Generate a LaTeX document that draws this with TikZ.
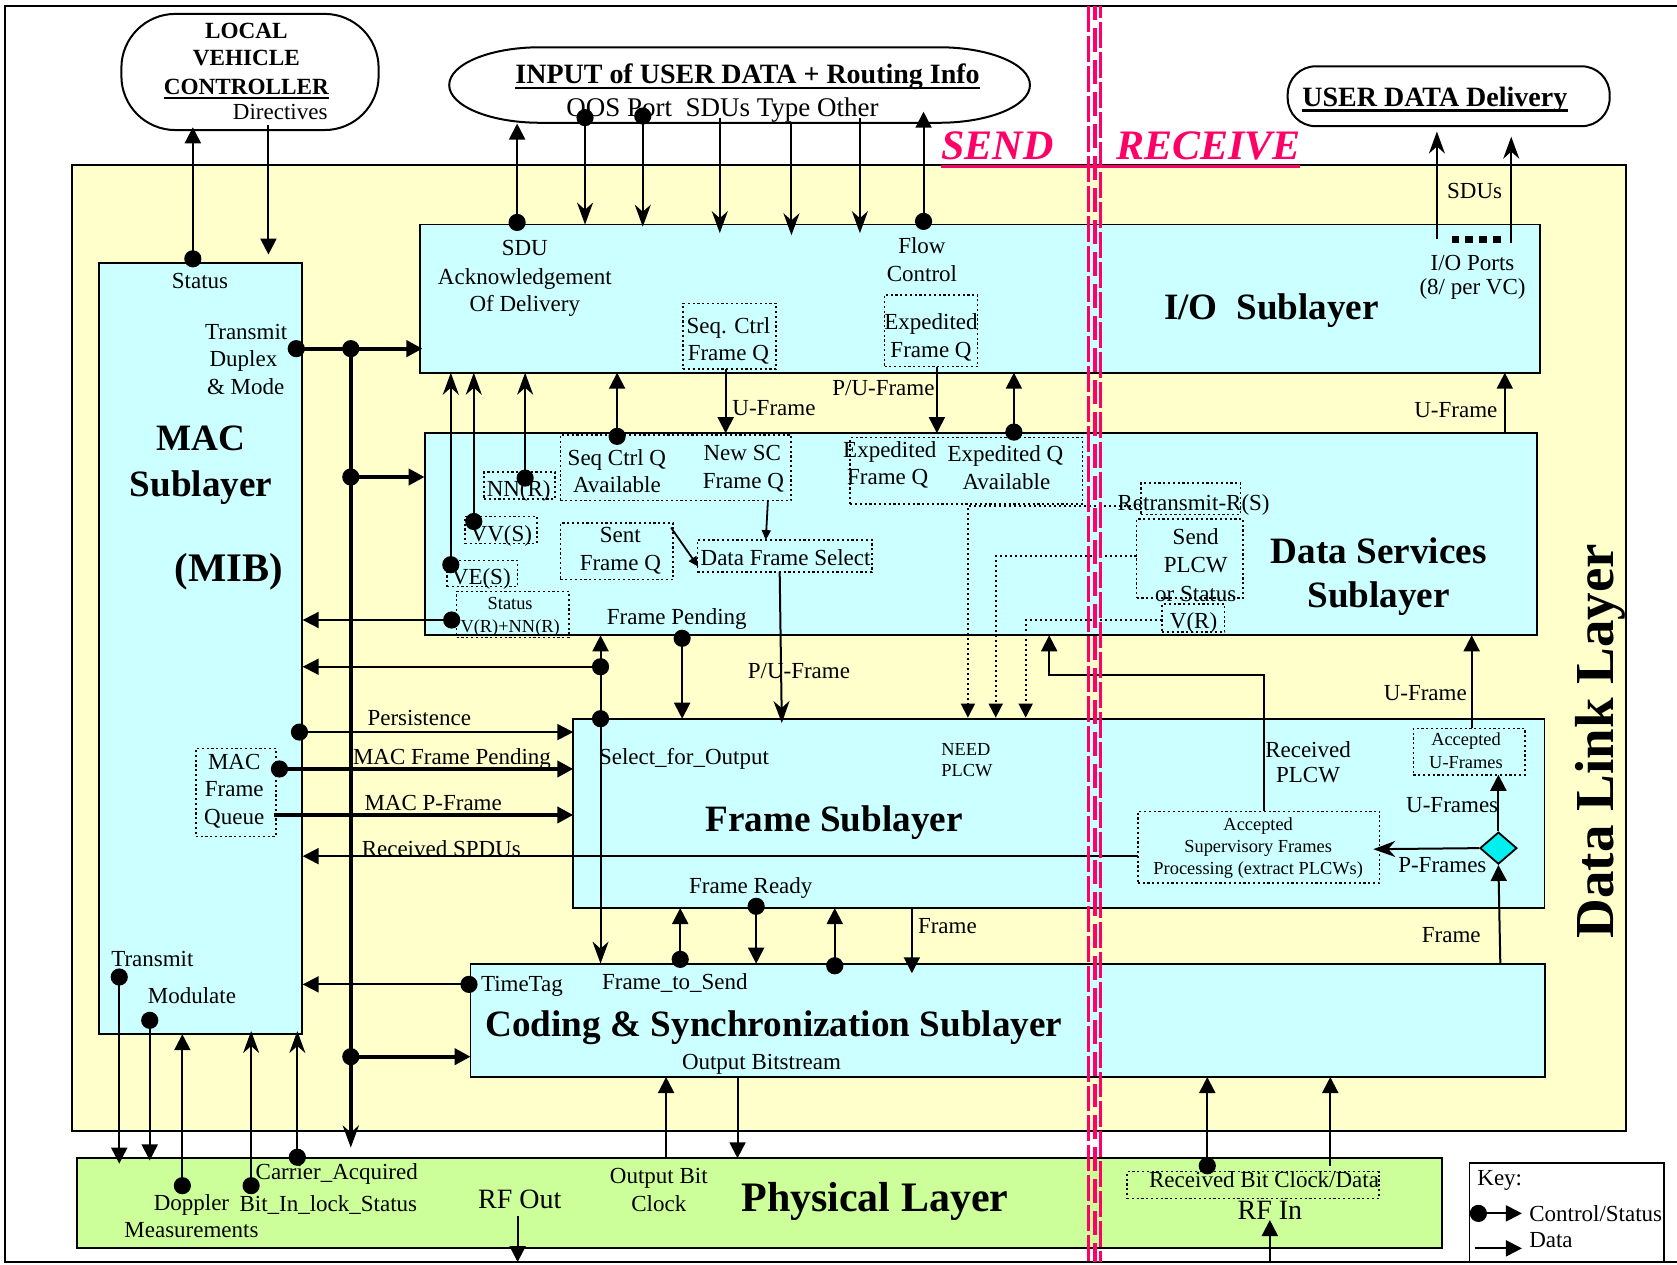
\documentclass[tikz,border=0pt]{standalone}
\usepackage{fontspec}
\setmainfont{Liberation Serif}
\usetikzlibrary{arrows.meta,fit,shapes.geometric}
\definecolor{dllY}{HTML}{FFFFCC}
\definecolor{boxC}{HTML}{CCFFFF}
\definecolor{phyG}{HTML}{CCFF99}
\definecolor{sendR}{HTML}{FF0066}
\definecolor{diaC}{HTML}{00F0F0}
\newcommand\mydot[1]{\fill #1 circle[radius=4.3pt];}
\begin{document}
\begin{tikzpicture}[x=0.535pt,y=-0.535pt,
  box/.style={draw,line width=0.9pt,fill=boxC,inner sep=0pt},
  dbox/.style={draw,dash pattern=on 1.1pt off 1.3pt,line width=0.8pt,inner sep=0pt},
  dotl/.style={dash pattern=on 1.1pt off 1.4pt,line width=0.9pt},
  ar/.style={line width=1pt,-{Triangle[length=8pt,width=8pt]}},
  arS/.style={line width=0.9pt,-{Triangle[length=5pt,width=4.5pt]}},
  st/.style={line width=1pt,-{Stealth[length=11pt,width=8pt,inset=3.5pt]}},
  thk/.style={line width=2pt},
  fN/.style={inner sep=0pt,text depth=0pt,font=\fontsize{11.5}{13}\selectfont},
  fS/.style={inner sep=0pt,text depth=0pt,font=\fontsize{9.2}{11}\selectfont},
  fQ/.style={inner sep=0pt,text depth=0pt,font=\fontsize{13.5}{15}\selectfont},
  fRF/.style={inner sep=0pt,text depth=0pt,font=\fontsize{14}{16}\selectfont},
  fT/.style={inner sep=0pt,text depth=0pt,font=\fontsize{18.6}{21}\selectfont\bfseries},
  fB/.style={inner sep=0pt,text depth=0pt,font=\fontsize{11.6}{13}\selectfont\bfseries},
  fU/.style={inner sep=0pt,text depth=0pt,font=\fontsize{14}{16}\selectfont\bfseries},
  fR/.style={inner sep=0pt,font=\fontsize{21}{24}\selectfont\bfseries\itshape,text=sendR}]
\useasboundingbox (0,0) rectangle (1568,1182);
\fill[white] (0,0) rectangle (1568,1182);
% outer frame
\draw[line width=1.2pt] (1568,5.6) -- (4.7,5.6) -- (4.7,1180) -- (1568,1180);
% data link layer
\node[draw,line width=0.9pt,fill=dllY,inner sep=0pt,fit={(67,154.5)(1520,1057.5)}] (dll) {};
\node[rotate=90,inner sep=0pt,font=\fontsize{27.5}{30}\selectfont\bfseries] (dllT) at (1496,693) {Data Link Layer};
% external shapes
\node[draw,line width=1pt,fill=white,rounded corners=27pt,inner sep=0pt,fit={(113.5,13)(354,121.6)}] (lvc) {};
\draw[line width=1pt,fill=white] (505,44.2) -- (878,44.2)
  arc[start angle=-90,end angle=90,x radius=85,y radius=35.3] -- (505,114.8)
  arc[start angle=90,end angle=270,x radius=85,y radius=35.3] -- cycle;
\node[inner sep=0pt,fit={(420,44.2)(963,114.8)}] (inp) {};
\node[draw,line width=1pt,fill=white,rounded corners=14pt,inner sep=0pt,fit={(1204,62)(1505,118)}] (udd) {};
\node[fB] (lvc1) at (230.4,28.7) {LOCAL};
\node[fB] (lvc2) at (230.4,54.5) {VEHICLE};
\node[fB] (lvc3) at (230.4,81) {CONTROLLER};
\draw[line width=1.1pt] ([yshift=-2pt]lvc3.base west) -- ([yshift=-2pt]lvc3.base east);
\node[fN] (dirT) at (262,104.4) {Directives};
\node[fU] (inpT) at (699,69) {INPUT of USER DATA + Routing Info};
\draw[line width=1.4pt] ([yshift=-2.2pt]inpT.base west) -- ([yshift=-2.2pt]inpT.base east);
\node[fQ] (qos) at (675.5,100) {QOS Port\ \ SDUs Type Other};
\node[fU] (uddT) at (1341.6,90.4) {USER DATA Delivery};
\draw[line width=1.4pt] ([yshift=-2.2pt]uddT.base west) -- ([yshift=-2.2pt]uddT.base east);
% sublayer boxes
\node[box,fit={(92.7,245.6)(282,966.5)}] (mac) {};
\node[box,fit={(393,210)(1440,348.5)}] (io) {};
\node[box,fit={(397,405)(1437,594)}] (ds) {};
\node[box,fit={(536,672)(1444,849)}] (fr) {};
\node[box,fit={(440,901)(1444.6,1007)}] (cs) {};
\node[draw,line width=0.9pt,fill=phyG,inner sep=0pt,fit={(72,1083)(1348,1166.6)}] (phy) {};
\node[draw,line width=0.9pt,fill=white,inner sep=0pt,fit={(1374,1087.6)(1556,1180)}] (key) {};
% MAC texts
\node[fN] (macSt) at (187,263) {Status};
\node[fN,anchor=east] (macTr) at (269,310) {Transmit};
\node[fN] (macDu) at (227.6,335) {Duplex};
\node[fN] (macMo) at (229.7,361.8) {\& Mode};
\node[fT] (macT1) at (188,409.6) {MAC};
\node[fT] (macT2) at (188,451.7) {Sublayer};
\node[inner sep=0pt,text depth=0pt,font=\fontsize{20.3}{23}\selectfont\bfseries] (macT3) at (214,531) {(MIB)};
\node[dbox,fit={(183,700)(258,782)}] (mfq) {};
\node[fN] (mfq1) at (219,712) {MAC};
\node[fN] (mfq2) at (219,738) {Frame};
\node[fN] (mfq3) at (219,764) {Queue};
\node[fN,anchor=west] (macTx) at (103.7,897) {Transmit};
\node[fN] (macMod) at (179.5,931) {Modulate};
% I/O texts
\node[fN] (sdu1) at (490.7,232) {SDU};
\node[fN] (sdu2) at (490.7,259) {Acknowledgement};
\node[fN] (sdu3) at (490.7,284) {Of Delivery};
\node[fN] (flow1) at (862,230) {Flow};
\node[fN] (flow2) at (862,255.6) {Control};
\node[dbox,fit={(638.7,283.6)(725.6,345)}] (scfq) {};
\node[fN] (scfq1) at (681,304) {Seq. Ctrl};
\node[fN] (scfq2) at (681,330) {Frame Q};
\node[dbox,fit={(827,275.8)(914,342.8)}] (efq) {};
\node[fN] (efq1) at (870.5,301) {Expedited};
\node[fN] (efq2) at (870.5,327) {Frame Q};
\node[fT] (ioT) at (1188.8,287) {I/O\ \ Sublayer};
\node[fN] (iop1) at (1376.8,246) {I/O Ports};
\node[fN] (iop2) at (1376.8,268) {(8/ per VC)};
\foreach \k in {0,1,2,3} \fill ({1357.3+12.9*\k},220.5) rectangle ({1364.3+12.9*\k},227);
\node[fN] (sdus) at (1378.8,178.6) {SDUs};
% DS texts
\node[dbox,fit={(452.6,441.5)(519,466.4)}] (nnrB) {};
\node[fN] (nnr) at (485,456.5) {NN(R)};
\node[dbox,fit={(434.8,483)(502,508)}] (vvsB) {};
\node[fN] (vvs) at (468.8,498.6) {VV(S)};
\node[dbox,fit={(418,524)(484,548.5)}] (vesB) {};
\node[fN] (ves) at (450,539) {VE(S)};
\node[dbox,fit={(427,553)(532,596)}] (stB) {};
\node[fS] (st1) at (477,564) {Status};
\node[fS] (st2) at (477,585) {V(R)+NN(R)};
\node[dbox,fit={(524,406.6)(739.5,468)}] (scqB) {};
\node[fN] (scq1) at (576.8,427.5) {Seq Ctrl Q};
\node[fN] (scq2) at (576.8,453) {Available};
\node[fN] (nsc1) at (694,423.7) {New SC};
\node[fN] (nsc2) at (695,450) {Frame Q};
\node[dbox,fit={(524,489)(629.5,542)}] (sfqB) {};
\node[fN] (sfq1) at (580,500) {Sent};
\node[fN] (sfq2) at (580,526) {Frame Q};
\node[dbox,fit={(652,505)(815.5,535)}] (dfsB) {};
\node[fN] (dfs) at (734.5,521) {Data Frame Select};
\node[dbox,fit={(795,409)(1012,471)}] (eqB) {};
\node[fN] (eq1) at (832,420.6) {Expedited};
\node[fN] (eq2) at (830,445.5) {Frame Q};
\node[fN] (eq3) at (940,423.7) {Expedited Q};
\node[fN] (eq4) at (941,450) {Available};
\node[dbox,fit={(1066.6,451.8)(1160,480.9)}] (rtB) {};
\node[fN] (rt) at (1116,470) {Retransmit-R(S)};
\node[dbox,fit={(1062.8,485.3)(1162.4,558.9)}] (spB) {};
\node[fN] (sp1) at (1118,502) {Send};
\node[fN] (sp2) at (1118,528) {PLCW};
\node[fN] (sp3) at (1118,555.5) {or Status};
\node[dbox,fit={(1086.6,565)(1145,591)}] (vrB) {};
\node[fN] (vr) at (1116,580) {V(R)};
\node[fT] (dsT1) at (1289,515) {Data Services};
\node[fT] (dsT2) at (1289,555.5) {Sublayer};
\node[fN] (fpend) at (632.8,576) {Frame Pending};
% Frame texts
\node[fN] (sfo) at (639.5,707.7) {Select\_for\_Output};
\node[fS] (need1) at (903,700.9) {NEED};
\node[fS] (need2) at (904,720.7) {PLCW};
\node[fT] (frT) at (780,765) {Frame Sublayer};
\node[fN] (rp1) at (1223,701) {Received};
\node[fN] (rp2) at (1223,724.5) {PLCW};
\node[dbox,fit={(1321.5,681)(1425.7,724.4)}] (auB) {};
\node[fS] (au1) at (1370.7,691) {Accepted};
\node[fS] (au2) at (1370.7,712.7) {U-Frames};
\node[fN] (ufs) at (1357.8,753) {U-Frames};
\node[fN] (pfs) at (1348.6,808.7) {P-Frames};
\node[dbox,fit={(1063.9,758.6)(1290,825.5)}] (asB) {};
\node[fS] (as1) at (1176.4,770.6) {Accepted};
\node[fS] (as2) at (1176.4,791.3) {Supervisory Frames};
\node[fS] (as3) at (1176.4,812) {Processing (extract PLCWs)};
\node[fN] (frdy) at (702,828) {Frame Ready};
\node[diamond,draw,line width=0.9pt,fill=diaC,minimum width=18.5pt,minimum height=16pt,inner sep=0pt] (dia) at (1401,793) {};
% Coding texts
\node[fN] (tt) at (488,919.7) {TimeTag};
\node[fN] (fts) at (631,918) {Frame\_to\_Send};
\node[fT] (csT) at (723.6,957) {Coding \& Synchronization Sublayer};
\node[fN] (obs) at (712,992.7) {Output Bitstream};
% Physical texts
\node[inner sep=0pt,text depth=0pt,font=\fontsize{21}{24}\selectfont\bfseries] (phyT) at (818,1119) {Physical Layer};
\node[fN,anchor=west] (carr) at (238.7,1095) {Carrier\_Acquired};
\node[fN] (dop) at (179,1124) {Doppler};
\node[fN] (bil) at (307,1125) {Bit\_In\_lock\_Status};
\node[fN] (meas) at (179,1150) {Measurements};
\node[fRF] (rfo) at (486,1121) {RF Out};
\node[fN] (ob1) at (616,1099.6) {Output Bit};
\node[fN] (ob2) at (616,1125) {Clock};
\node[dbox,fit={(1053.8,1095.5)(1289.3,1120.5)}] (rbB) {};
\node[fN] (rb) at (1181.9,1103.3) {Received Bit Clock/Data};
\node[fRF] (rfi) at (1187.3,1131.4) {RF In};
% connector labels
\node[fN,anchor=west] (lUf1) at (684.5,381) {U-Frame};
\node[fN] (lPU1) at (826,363) {P/U-Frame};
\node[fN,anchor=east] (lUf2) at (1400.4,383) {U-Frame};
\node[fN] (lPU2) at (747,627) {P/U-Frame};
\node[fN] (lUf3) at (1332.6,647.5) {U-Frame};
\node[fN] (lPers) at (392,671) {Persistence};
\node[fN] (lMFP) at (422.6,707.7) {MAC Frame Pending};
\node[fN] (lMPF) at (405,750.6) {MAC P-Frame};
\node[fN] (lRS) at (412.6,793) {Received SPDUs};
\node[fN,anchor=west] (lFr1) at (858,865.8) {Frame};
\node[fN,anchor=east] (lFr2) at (1384.8,874) {Frame};
% key
\node[fN,anchor=west] (k1) at (1381,1101.6) {Key:};
\node[fN,anchor=west] (k2) at (1429.5,1134.5) {Control/Status};
\node[fN,anchor=west] (k3) at (1429.5,1159.4) {Data};
\draw[ar] (1382.3,1134.5) -- (1423,1134.5); \mydot{(1382.3,1134.5)}
\draw[ar] (1379,1167.2) -- (1423,1167.2);
% --- connectors ---
\draw[ar] (180.3,242) -- (180.3,119); \mydot{(180.3,242)}
\draw[ar] (251,117) -- (251,238);
\draw[ar] (483.5,208) -- (483.5,115.5); \mydot{(483.5,208)}
\draw[st] (547,110) -- (547,210); \mydot{(547,110)}
\draw[st] (601,108.5) -- (601,212); \mydot{(601,108.5)}
\draw[st] (673,110.6) -- (673,218);
\draw[st] (740,114.8) -- (740,220);
\draw[st] (804,110.6) -- (804,218);
\draw[ar] (863.5,207) -- (863.5,104.4); \mydot{(863.5,207)}
\draw[st] (1343.5,223) -- (1343.5,123);
\draw[st] (1413,227.5) -- (1413,127.8);
% MAC bus
\draw[thk,-{Triangle[length=8pt,width=8pt]}] (277,326) -- (395,326);
\draw[thk,-{Stealth[length=11pt,width=8pt,inset=3.5pt]}] (328,326) -- (328,1073);
\draw[thk,-{Triangle[length=8pt,width=8pt]}] (328,446) -- (397,446);
\draw[thk,-{Triangle[length=8pt,width=8pt]}] (328,988) -- (440,988);
\mydot{(277,326)} \mydot{(328,326)} \mydot{(328,446)} \mydot{(328,988)}
% DS -> IO
\draw[st] (421.5,528) -- (421.5,348.5); \mydot{(421.5,528)}
\draw[st] (443,487.6) -- (443,348.5); \mydot{(443,487.6)}
\draw[st] (491,447) -- (491,348.5); \mydot{(491,447)}
\draw[ar] (577,408) -- (577,348.5); \mydot{(577,408)}
\draw[ar] (948,404) -- (948,348.5); \mydot{(948,404)}
\draw[ar] (678.5,345) -- (678.5,405);
\draw[ar] (876,343) -- (876,405);
\draw[ar] (1407,405) -- (1407,348.5);
% DS -> MAC, Frame
\draw[ar] (422.3,579.7) -- (283,579.7); \mydot{(422.3,579.7)}
\draw[ar] (561.5,623.4) -- (283,623.4); \mydot{(561.5,623.4)}
\draw[line width=1pt,{Triangle[length=8pt,width=8pt]}-{Stealth[length=11pt,width=8pt,inset=3.5pt]}] (561.5,594) -- (561.5,901);
\mydot{(561.5,672)}
\draw[ar] (637.8,596.8) -- (637.8,672); \mydot{(637.8,596.8)}
\draw[st] (729,535) -- (731,676);
\draw[arS] (627.4,493.3) -- (652.8,529.8);
\draw[arS] (718,468) -- (716,505);
\draw[dotl,-{Triangle[length=7pt,width=7pt]}] (1066.6,473) -- (905,473) -- (905,671);
\draw[dotl,-{Triangle[length=7pt,width=7pt]}] (1062.8,520) -- (931,520) -- (931,671);
\draw[dotl,-{Triangle[length=7pt,width=7pt]}] (1086.6,580) -- (959,580) -- (959,671);
\draw[ar] (1182,758.6) -- (1182,631) -- (981,631) -- (981,594);
% diamond
\draw[ar] (1402.8,901) -- (dia.south);
\draw[ar] (dia.north) -- (1401,724.4);
\draw[st] (dia.west) -- (1284,794);
\draw[ar] (1376,681) -- (1376,594);
\draw[ar] (1063.9,800.5) -- (283,800.5);
% MAC -> Frame
\draw[ar] (282,684.5) -- (536,684.5); \mydot{(280,684.5)}
\draw[thk,-{Triangle[length=8pt,width=8pt]}] (261.3,719) -- (536,719); \mydot{(261.3,719)}
\draw[thk,-{Triangle[length=8pt,width=8pt]}] (256,762) -- (536,762);
% Frame <-> Coding
\draw[ar] (636,897) -- (636,849); \mydot{(636,897)}
\draw[ar] (707,847.4) -- (707,901); \mydot{(707,847.4)}
\draw[ar] (780.5,903) -- (780.5,849); \mydot{(780.5,903)}
\draw[ar] (852.6,849) -- (852.6,910);
\draw[ar] (438.5,920.4) -- (283,920.4); \mydot{(438.5,920.4)}
% MAC <-> Phy
\draw[ar] (111.5,913.5) -- (111.5,1088); \mydot{(111.5,913.5)}
\draw[ar] (140,954) -- (140,1085); \mydot{(140,954)}
\draw[ar] (170.5,1108.6) -- (170.5,967); \mydot{(170.5,1108.6)}
\draw[st] (234.8,1108.6) -- (234.8,964); \mydot{(234.8,1108.6)}
\draw[st] (278,1082) -- (278,964); \mydot{(278,1082)}
% Coding <-> Phy
\draw[ar] (484,1137) -- (484,1180);
\draw[ar] (622.8,1083) -- (622.8,1007);
\draw[ar] (689.6,1007) -- (689.6,1083);
\draw[ar] (1128.8,1090) -- (1128.8,1007); \mydot{(1128.8,1090)}
\draw[ar] (1243.8,1090) -- (1243.8,1007);
\draw[ar] (1187.3,1180) -- (1187.3,1140.7);
% send / receive divider
\draw[sendR,line width=1.35pt,dash pattern=on 13pt off 2pt] (1017.8,5.6) -- (1017.8,1180);
\draw[sendR,line width=2pt,dash pattern=on 12pt off 4pt,dash phase=5pt] (1023.8,5.6) -- (1023.8,1180);
\draw[sendR,line width=1.35pt,dash pattern=on 13pt off 2pt,dash phase=7pt] (1028.8,5.6) -- (1028.8,1180);
\node[fR,anchor=base west] (sendT) at (880,149) {SEND};
\node[fR,anchor=base west] (recvT) at (1043.5,149) {RECEIVE};
\draw[sendR,line width=1.7pt] (880,155.8) -- (1215.7,155.8);
\end{tikzpicture}
\end{document}
